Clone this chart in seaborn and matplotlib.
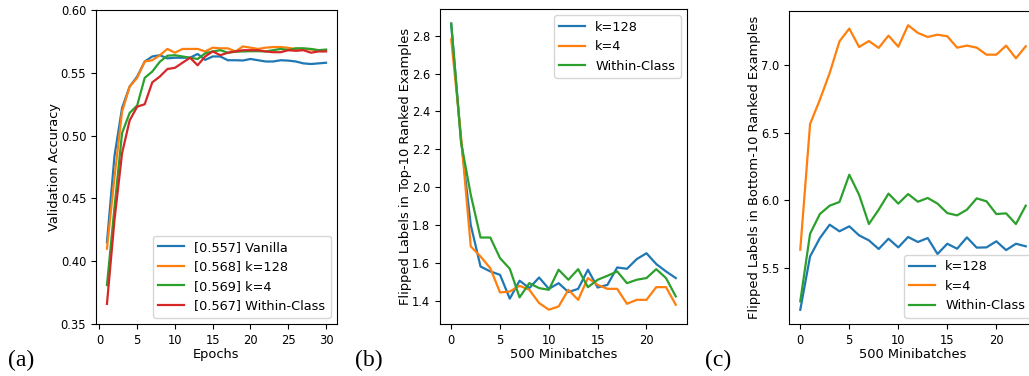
import numpy as np
import pandas as pd
import matplotlib
matplotlib.use("Agg")
import matplotlib.pyplot as plt
import seaborn as sns

# ---------------- data ----------------
epochs = list(range(1, 31))
acc_vanilla = [0.415, 0.484, 0.522, 0.539, 0.547, 0.559, 0.563, 0.564, 0.5615, 0.562,
               0.562, 0.562, 0.565, 0.5603, 0.563, 0.563, 0.560, 0.560, 0.5598, 0.561,
               0.560, 0.559, 0.559, 0.560, 0.5597, 0.559, 0.5575, 0.557, 0.5575, 0.558]
acc_k128 = [0.410, 0.467, 0.519, 0.539, 0.546, 0.559, 0.560, 0.564, 0.569, 0.566,
            0.569, 0.569, 0.569, 0.567, 0.570, 0.5695, 0.5695, 0.567, 0.571, 0.570,
            0.569, 0.570, 0.5705, 0.5705, 0.5698, 0.569, 0.569, 0.5685, 0.568, 0.568]
acc_k4 = [0.381, 0.443, 0.502, 0.518, 0.524, 0.546, 0.551, 0.5588, 0.5636, 0.564,
          0.563, 0.562, 0.561, 0.5655, 0.567, 0.568, 0.566, 0.5668, 0.567, 0.5672,
          0.5672, 0.567, 0.568, 0.569, 0.568, 0.5695, 0.5695, 0.569, 0.568, 0.5685]
acc_within = [0.366, 0.433, 0.486, 0.512, 0.523, 0.525, 0.5424, 0.547, 0.553, 0.554,
              0.558, 0.562, 0.556, 0.563, 0.567, 0.564, 0.566, 0.567, 0.568, 0.568,
              0.568, 0.567, 0.5664, 0.5664, 0.568, 0.5675, 0.568, 0.566, 0.567, 0.567]
acc_labels = ["[0.557] Vanilla", "[0.568] k=128", "[0.569] k=4", "[0.567] Within-Class"]

steps = list(range(24))
top_k128 = [2.86, 2.25, 1.80, 1.581, 1.555, 1.537, 1.411, 1.506, 1.467, 1.523,
            1.463, 1.493, 1.446, 1.463, 1.564, 1.470, 1.484, 1.576, 1.569, 1.620,
            1.651, 1.594, 1.555, 1.520]
top_k4 = [2.78, 2.27, 1.687, 1.634, 1.572, 1.444, 1.449, 1.479, 1.458, 1.388,
          1.353, 1.370, 1.458, 1.405, 1.520, 1.484, 1.463, 1.463, 1.384, 1.405,
          1.405, 1.472, 1.472, 1.379]
top_within = [2.865, 2.24, 1.96, 1.734, 1.734, 1.625, 1.569, 1.418, 1.493, 1.467,
              1.458, 1.564, 1.511, 1.567, 1.472, 1.511, 1.532, 1.555, 1.493, 1.511,
              1.520, 1.567, 1.520, 1.423]

bot_k128 = [5.19, 5.585, 5.721, 5.82, 5.771, 5.808, 5.741, 5.704, 5.64, 5.716,
            5.652, 5.729, 5.692, 5.721, 5.603, 5.679, 5.642, 5.726, 5.65, 5.652,
            5.697, 5.632, 5.679, 5.66]
bot_k4 = [5.635, 6.565, 6.746, 6.943, 7.178, 7.272, 7.136, 7.18, 7.129, 7.22,
          7.138, 7.297, 7.24, 7.21, 7.227, 7.215, 7.131, 7.146, 7.131, 7.079,
          7.079, 7.146, 7.052, 7.141]
bot_within = [5.252, 5.753, 5.899, 5.961, 5.988, 6.19, 6.042, 5.825, 5.931, 6.05,
              5.976, 6.047, 5.99, 6.018, 5.976, 5.906, 5.889, 5.931, 6.015, 5.993,
              5.899, 5.904, 5.825, 5.961]
flip_labels = ["k=128", "k=4", "Within-Class"]

colors = ["#1f77b4", "#ff7f0e", "#2ca02c", "#d62728"]

TICK_FS = 8.3
LABEL_FS = 9.4
LEG_FS = 9.3

fig = plt.figure(figsize=(10.29, 3.76), dpi=100)

def style(ax):
    ax.tick_params(labelsize=TICK_FS)
    for s in ax.spines.values():
        s.set_linewidth(0.8)

# ---------------- panel (a) ----------------
axA = fig.add_axes([96/1029, 52/376, 241/1029, 314/376])
for ys, lab, c in zip([acc_vanilla, acc_k128, acc_k4, acc_within], acc_labels, colors):
    sns.lineplot(x=epochs, y=ys, ax=axA, color=c, label=lab, linewidth=1.6)
axA.set_ylim(0.35, 0.60)
axA.set_yticks([0.35, 0.40, 0.45, 0.50, 0.55, 0.60])
axA.set_xticks([0, 5, 10, 15, 20, 25, 30])
axA.set_xlabel("Epochs", fontsize=LABEL_FS, labelpad=1)
axA.set_ylabel("Validation Accuracy", fontsize=LABEL_FS, labelpad=0)
axA.legend(loc="lower right", fontsize=LEG_FS)
style(axA)

# ---------------- panel (b) ----------------
axB = fig.add_axes([440/1029, 52/376, 247/1029, 315/376])
for ys, lab, c in zip([top_k128, top_k4, top_within], flip_labels, colors):
    sns.lineplot(x=steps, y=ys, ax=axB, color=c, label=lab, linewidth=1.6)
axB.set_xticks([0, 5, 10, 15, 20])
axB.set_yticks([1.4, 1.6, 1.8, 2.0, 2.2, 2.4, 2.6, 2.8])
axB.set_xlabel("500 Minibatches", fontsize=LABEL_FS, labelpad=1)
axB.set_ylabel("Flipped Labels in Top-10 Ranked Examples", fontsize=LABEL_FS, labelpad=0)
axB.legend(loc="upper right", fontsize=LEG_FS)
style(axB)

# ---------------- panel (c) ----------------
axC = fig.add_axes([789/1029, 52/376, 248/1029, 313/376])
for ys, lab, c in zip([bot_k128, bot_k4, bot_within], flip_labels, colors):
    sns.lineplot(x=steps, y=ys, ax=axC, color=c, label=lab, linewidth=1.6)
axC.set_xticks([0, 5, 10, 15, 20])
axC.set_yticks([5.5, 6.0, 6.5, 7.0])
axC.set_xlabel("500 Minibatches", fontsize=LABEL_FS, labelpad=1)
axC.set_ylabel("Flipped Labels in Bottom-10 Ranked Examples", fontsize=LABEL_FS, labelpad=0)
axC.legend(loc="lower right", fontsize=LEG_FS)
style(axC)

for x, t in [(8, "(a)"), (355, "(b)"), (705, "(c)")]:
    fig.text(x/1029, 10/376, t, family="Liberation Serif", fontsize=17, va="baseline", ha="left")

fig.savefig("out.png", dpi=100)
